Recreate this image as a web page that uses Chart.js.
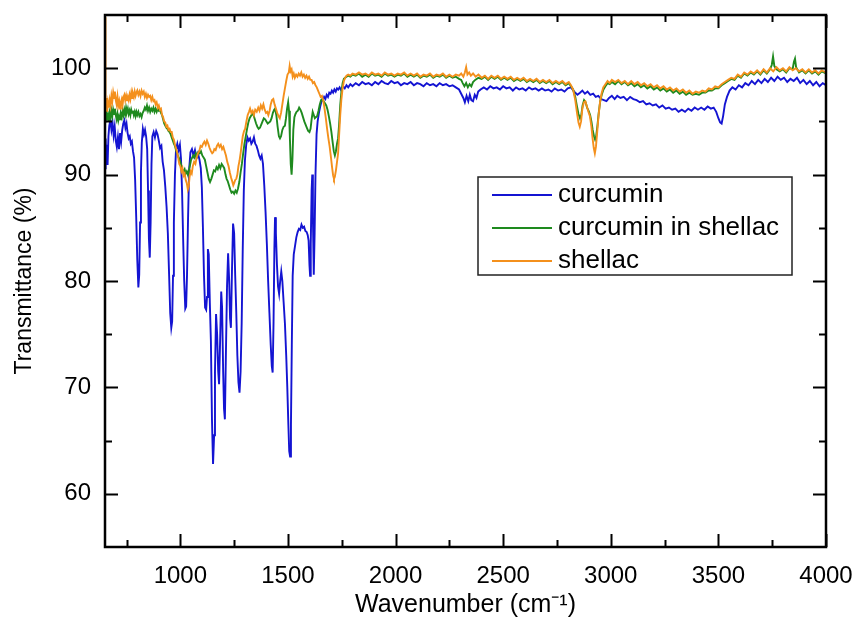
<!DOCTYPE html>
<html>
<head>
<meta charset="utf-8">
<script src="https://cdn.jsdelivr.net/npm/chart.js@4.4.1/dist/chart.umd.min.js"></script>
<style>
  html, body { margin: 0; padding: 0; background: #fff; }
  #wrap { width: 857px; height: 628px; }
</style>
</head>
<body>
<div id="wrap"><canvas id="ftir" width="857" height="628"></canvas></div>
<script>
// FTIR spectra: [wavenumber (cm-1), transmittance (%)]
const seriesNames = ["curcumin", "curcumin in shellac", "shellac"];
const seriesColors = ["#1414d2", "#1e8a1e", "#f4901c"];

const xTicks = [1000, 1500, 2000, 2500, 3000, 3500, 4000];
const xMinorTicks = [750, 1250, 1750, 2250, 2750, 3250, 3750];
const yTicks = [60, 70, 80, 90, 100];
const yMinorTicks = [65, 75, 85, 95];

const curcumin = [
[650,90.6],[653,93.4],[656,91.2],[659,92.8],[662,90.9],[666,93.6],[670,94.6],[675,95.1],[680,94.2],[685,94.9],[690,93.7],[695,94.5],[700,93.2],[705,92.6],[710,93.5],[715,92.4],[720,93.9],[725,93.1],[730,94.2],[735,94.8],[740,95.1],[745,94.4],[750,94.8],[755,93.9],[760,93.4],[765,93.6],[770,92.9],[775,93.1],[780,92.2],[785,91.6],[790,89.5],[795,86.0],[800,82.0],[805,79.4],[809,80.6],[813,85.5],[817,90.2],[821,93.0],[826,94.3],[831,93.8],[836,94.2],[841,93.6],[846,92.4],[850,88.5],[854,84.0],[858,82.2],[862,85.5],[866,91.0],[870,93.6],[876,94.0],[882,93.5],[888,94.1],[894,93.8],[900,93.2],[906,92.5],[912,92.7],[918,91.2],[924,90.4],[930,88.9],[936,87.0],[942,84.5],[948,80.5],[953,77.0],[958,75.6],[962,76.2],[966,80.5],[970,85.5],[975,90.0],[980,92.4],[986,92.9],[992,92.3],[998,92.8],[1003,91.5],[1008,88.5],[1013,84.0],[1018,80.0],[1023,77.4],[1027,77.6],[1031,80.5],[1036,86.0],[1041,90.5],[1047,92.1],[1054,92.4],[1061,91.8],[1068,92.3],[1075,91.6],[1082,92.0],[1089,91.4],[1095,90.6],[1100,88.8],[1105,85.0],[1110,80.5],[1115,77.5],[1120,77.3],[1124,78.5],[1128,83.0],[1132,82.5],[1137,78.0],[1142,74.4],[1147,67.0],[1152,62.8],[1157,65.5],[1161,71.5],[1166,76.9],[1171,75.0],[1176,71.5],[1180,70.3],[1185,74.5],[1190,79.0],[1194,77.5],[1199,71.5],[1203,68.0],[1207,67.0],[1212,73.5],[1217,79.5],[1222,82.6],[1227,80.0],[1231,76.5],[1235,75.6],[1240,81.0],[1245,85.4],[1250,84.5],[1255,80.5],[1260,77.0],[1265,73.0],[1270,70.5],[1275,69.5],[1280,71.5],[1285,76.0],[1290,83.0],[1295,88.5],[1300,91.3],[1306,92.8],[1312,93.5],[1318,93.2],[1324,93.4],[1330,92.9],[1336,93.1],[1342,93.5],[1348,92.9],[1354,92.7],[1360,92.3],[1366,91.8],[1372,91.5],[1378,91.8],[1384,91.0],[1390,89.0],[1396,86.5],[1402,83.5],[1408,80.0],[1414,77.0],[1420,74.0],[1425,72.0],[1429,71.4],[1433,76.0],[1437,83.0],[1440,86.0],[1444,84.5],[1449,81.5],[1454,79.5],[1459,78.8],[1464,80.0],[1469,80.9],[1474,80.0],[1480,78.0],[1486,76.0],[1492,73.0],[1497,70.0],[1502,66.5],[1506,64.0],[1510,63.5],[1514,66.5],[1518,74.0],[1522,80.5],[1527,82.5],[1533,83.3],[1539,84.1],[1545,84.6],[1551,84.9],[1557,84.8],[1563,85.3],[1569,85.0],[1575,85.1],[1581,84.7],[1587,84.6],[1592,84.3],[1596,83.8],[1600,81.5],[1603,80.5],[1606,83.5],[1610,88.5],[1613,90.0],[1616,86.0],[1620,80.6],[1624,84.5],[1628,90.0],[1633,93.8],[1638,95.0],[1644,95.8],[1650,96.4],[1656,96.9],[1662,97.0],[1668,97.3],[1674,97.1],[1680,97.5],[1686,97.3],[1692,97.7],[1698,97.6],[1704,97.9],[1710,97.7],[1716,98.0],[1722,97.8],[1728,98.1],[1734,98.0],[1740,98.2],[1748,97.9],[1756,98.3],[1764,98.1],[1772,98.4],[1780,98.2],[1790,98.5],[1800,98.3],
[1815,98.6],[1830,98.4],[1845,98.7],[1860,98.5],[1875,98.6],[1890,98.4],[1905,98.7],[1920,98.5],[1935,98.8],[1950,98.6],[1965,98.5],[1980,98.8],[1995,98.6],[2010,98.7],[2025,98.4],[2040,98.6],[2055,98.5],[2070,98.7],[2085,98.4],[2100,98.6],[2115,98.5],[2130,98.3],[2145,98.6],[2160,98.4],[2175,98.5],[2190,98.3],[2205,98.6],[2220,98.4],[2235,98.5],[2250,98.3],[2265,98.4],[2280,98.2],[2295,98.0],[2305,97.6],[2315,97.2],[2322,96.8],[2330,97.4],[2338,96.9],[2345,97.5],[2352,97.0],[2360,96.9],[2368,97.5],[2376,97.2],[2384,97.8],[2395,98.0],[2410,98.2],[2425,98.0],[2440,98.3],[2455,98.1],[2470,98.2],[2485,98.0],[2500,98.3],[2515,98.1],[2530,98.2],[2545,97.9],[2560,98.2],[2575,98.0],[2590,98.1],[2605,97.9],[2620,98.2],[2635,98.0],[2650,98.1],[2665,97.9],[2680,98.1],[2695,97.9],[2710,98.0],[2725,97.8],[2740,98.1],[2755,97.9],[2770,98.0],[2785,97.8],[2800,98.1],[2815,98.2],[2830,97.8],[2845,97.5],[2857,97.7],[2868,97.9],[2880,97.6],[2892,97.8],[2905,97.5],[2918,97.6],[2930,97.3],[2942,97.4],[2955,97.1],[2968,97.0],[2980,96.9],[2992,97.2],[3005,97.4],[3018,97.1],[3030,97.4],[3045,97.2],[3060,97.3],[3075,97.0],[3090,97.3],[3105,97.1],[3120,97.0],[3135,96.8],[3150,96.9],[3165,96.6],[3180,96.7],[3195,96.5],[3210,96.6],[3225,96.3],[3240,96.5],[3255,96.2],[3270,96.3],[3285,96.1],[3300,96.2],[3315,95.9],[3330,96.1],[3345,95.9],[3360,96.2],[3375,96.0],[3390,96.3],[3405,96.1],[3420,96.3],[3435,96.1],[3450,96.4],[3465,96.2],[3478,96.3],[3490,95.9],[3500,95.3],[3508,94.9],[3515,94.8],[3522,95.5],[3530,96.6],[3540,97.3],[3552,97.9],[3565,98.2],[3580,98.0],[3595,98.4],[3610,98.2],[3625,98.6],[3640,98.4],[3655,98.8],[3670,98.5],[3685,98.9],[3700,98.6],[3715,99.0],[3730,98.7],[3745,99.1],[3760,98.8],[3775,99.2],[3790,98.9],[3805,99.1],[3820,98.7],[3835,99.0],[3850,98.8],[3865,99.1],[3880,98.6],[3895,98.9],[3910,98.5],[3925,98.8],[3940,98.4],[3955,98.7],[3970,98.3],[3985,98.6],[4000,98.4]
];

const curcuminInShellac = [
[650,95.9],[653,95.1],[656,96.0],[660,95.3],[664,95.6],[668,95.0],[672,95.8],[676,95.4],[680,96.0],[684,95.5],[688,96.1],[692,95.7],[696,96.2],[700,95.6],[704,95.2],[708,95.7],[712,95.1],[716,95.5],[720,95.2],[724,95.7],[728,95.4],[732,96.0],[736,95.6],[740,96.1],[744,95.7],[748,96.3],[752,95.9],[756,96.2],[760,95.7],[764,96.0],[768,95.6],[772,96.1],[776,95.8],[780,96.0],[784,95.6],[788,95.9],[792,95.5],[796,95.9],[800,95.6],[805,95.9],[810,95.5],[815,95.7],[820,95.4],[825,95.8],[830,96.0],[835,96.3],[840,96.1],[845,96.5],[850,96.0],[855,96.3],[860,95.9],[865,96.2],[870,96.0],[875,96.3],[880,95.9],[885,96.2],[890,95.9],[895,96.2],[900,96.0],[905,96.1],[910,95.8],[915,95.6],[920,95.2],[925,94.8],[930,94.6],[935,94.4],[940,94.3],[945,94.1],[950,94.0],[955,93.8],[960,93.5],[965,93.2],[970,92.9],[975,92.7],[980,92.3],[985,92.0],[990,91.7],[995,91.5],[1000,91.2],[1005,90.8],[1010,90.4],[1015,90.3],[1020,90.5],[1025,90.1],[1030,90.3],[1035,90.0],[1040,90.4],[1045,90.9],[1050,91.4],[1055,91.6],[1060,91.8],[1066,91.6],[1072,92.0],[1078,91.7],[1084,92.1],[1090,92.0],[1096,92.2],[1102,91.8],[1108,91.6],[1114,91.4],[1120,90.8],[1126,90.2],[1132,89.6],[1138,89.3],[1144,89.6],[1150,90.0],[1156,90.4],[1162,90.3],[1168,90.7],[1174,90.5],[1180,90.9],[1186,90.6],[1192,91.0],[1198,90.8],[1204,90.6],[1210,90.0],[1215,89.6],[1220,89.4],[1226,89.0],[1232,88.6],[1238,88.3],[1244,88.4],[1250,88.2],[1256,88.5],[1262,88.3],[1268,88.7],[1274,89.3],[1280,90.2],[1286,91.0],[1292,92.0],[1298,92.9],[1304,93.6],[1310,94.3],[1316,94.9],[1322,95.3],[1328,95.5],[1334,95.7],[1340,95.6],[1346,95.2],[1352,94.8],[1358,94.5],[1364,94.3],[1370,94.4],[1376,94.7],[1382,95.0],[1388,95.3],[1394,95.2],[1400,95.0],[1406,94.8],[1412,94.9],[1418,95.0],[1424,95.3],[1430,95.8],[1436,96.1],[1440,96.2],[1446,95.6],[1452,94.5],[1458,93.6],[1463,93.4],[1468,93.6],[1474,94.2],[1480,94.5],[1486,94.6],[1491,95.3],[1496,96.2],[1501,96.8],[1505,96.0],[1509,93.5],[1513,91.0],[1517,90.0],[1521,91.5],[1525,94.2],[1530,95.4],[1535,95.7],[1540,95.9],[1546,96.0],[1552,96.3],[1558,96.1],[1564,95.8],[1570,95.4],[1576,95.0],[1582,94.7],[1588,94.4],[1594,94.1],[1600,94.0],[1605,94.3],[1610,95.2],[1615,95.9],[1620,95.6],[1625,95.3],[1630,95.4],[1636,95.5],[1642,96.0],[1648,96.6],[1654,97.0],[1660,97.1],[1666,96.9],[1672,96.7],[1678,96.5],[1684,96.1],[1690,95.5],[1696,94.8],[1702,94.0],[1708,93.0],[1713,92.2],[1718,91.8],[1723,92.2],[1728,92.9],[1733,93.4],[1738,94.8],[1743,96.5],[1748,97.7],[1754,98.6],[1760,99.0],[1766,99.1],[1772,99.2],[1780,99.3],[1790,99.2],[1800,99.4],
[1815,99.3],[1830,99.5],[1845,99.2],[1860,99.4],[1875,99.2],[1890,99.5],[1905,99.3],[1920,99.4],[1935,99.2],[1950,99.5],[1965,99.3],[1980,99.4],[1995,99.2],[2010,99.4],[2025,99.3],[2040,99.5],[2055,99.2],[2070,99.4],[2085,99.2],[2100,99.4],[2115,99.1],[2130,99.3],[2145,99.2],[2160,99.4],[2175,99.1],[2190,99.3],[2205,99.2],[2220,99.4],[2235,99.1],[2250,99.3],[2265,99.1],[2280,99.2],[2295,99.0],[2305,98.9],[2312,98.6],[2320,98.3],[2328,98.6],[2336,98.2],[2344,98.5],[2352,98.3],[2360,98.7],[2370,98.9],[2385,99.1],[2400,99.0],[2415,99.2],[2430,98.9],[2445,99.2],[2460,99.0],[2475,99.2],[2490,98.9],[2505,99.1],[2520,98.9],[2535,99.1],[2550,98.8],[2565,99.0],[2580,98.8],[2595,99.0],[2610,98.7],[2625,98.9],[2640,98.7],[2655,98.9],[2670,98.6],[2685,98.8],[2700,98.6],[2715,98.8],[2730,98.5],[2745,98.7],[2760,98.5],[2775,98.7],[2790,98.4],[2805,98.6],[2815,98.3],[2825,98.0],[2835,97.3],[2843,96.4],[2850,95.7],[2857,95.3],[2863,95.6],[2869,96.5],[2876,97.0],[2883,96.8],[2890,96.3],[2897,96.0],[2904,95.6],[2910,95.0],[2916,94.2],[2922,93.6],[2927,93.3],[2932,93.6],[2938,94.6],[2944,95.8],[2951,96.9],[2958,97.5],[2966,98.0],[2975,98.3],[2985,98.6],[2995,98.5],[3005,98.7],[3020,98.5],[3035,98.8],[3050,98.5],[3065,98.7],[3080,98.4],[3095,98.6],[3110,98.3],[3125,98.5],[3140,98.2],[3155,98.4],[3170,98.1],[3185,98.3],[3200,98.0],[3215,98.2],[3230,97.9],[3245,98.1],[3260,97.8],[3275,98.0],[3290,97.7],[3305,97.9],[3320,97.6],[3335,97.8],[3350,97.5],[3365,97.7],[3380,97.5],[3395,97.6],[3410,97.5],[3425,97.7],[3440,97.7],[3455,97.9],[3470,97.9],[3485,98.1],[3500,98.1],[3515,98.4],[3530,98.6],[3545,98.8],[3560,99.0],[3575,98.9],[3590,99.3],[3605,99.1],[3620,99.5],[3635,99.3],[3650,99.6],[3665,99.4],[3680,99.7],[3695,99.4],[3710,99.8],[3725,99.5],[3740,99.9],[3748,100.3],[3754,101.1],[3760,100.2],[3770,99.9],[3785,99.7],[3800,99.9],[3815,99.6],[3830,100.0],[3845,99.9],[3851,100.6],[3856,100.9],[3861,100.1],[3875,99.6],[3890,99.8],[3905,99.5],[3920,99.8],[3935,99.5],[3950,99.7],[3965,99.4],[3980,99.7],[4000,99.5]
];

const shellac = [
[650,104.8],[651,101.0],[652,98.5],[654,96.4],[657,97.2],[660,95.9],[664,96.8],[668,96.3],[672,97.0],[676,96.5],[680,97.4],[684,96.9],[688,97.7],[692,97.2],[696,97.8],[700,97.0],[704,96.6],[708,97.3],[712,96.5],[716,96.9],[720,96.2],[724,96.8],[728,97.1],[732,96.6],[736,97.3],[740,97.5],[744,97.0],[748,97.4],[752,96.9],[756,97.3],[760,97.0],[764,97.5],[768,97.1],[772,97.7],[776,97.2],[780,97.6],[784,97.3],[788,97.8],[792,97.4],[796,97.7],[800,97.9],[805,97.5],[810,97.8],[815,97.4],[820,97.9],[825,97.6],[830,97.8],[835,97.3],[840,97.6],[845,97.2],[850,97.5],[855,97.3],[860,97.4],[865,97.0],[870,97.3],[875,96.9],[880,97.0],[885,96.6],[890,96.8],[895,96.3],[900,96.5],[905,96.1],[910,96.2],[915,95.6],[920,95.4],[925,95.0],[930,94.9],[935,94.5],[940,94.6],[945,94.2],[950,94.3],[955,94.0],[960,94.0],[965,93.5],[970,93.3],[975,92.8],[980,92.5],[985,92.1],[990,91.6],[995,91.0],[1000,90.8],[1005,90.3],[1010,90.6],[1015,89.9],[1020,90.1],[1025,89.5],[1030,89.2],[1035,88.6],[1039,88.9],[1043,89.8],[1048,90.3],[1053,90.1],[1058,90.8],[1064,91.2],[1070,91.0],[1076,91.6],[1082,92.0],[1088,92.2],[1094,92.7],[1100,92.6],[1106,92.9],[1112,93.1],[1118,92.8],[1124,93.2],[1130,92.9],[1136,92.5],[1142,92.2],[1148,92.0],[1153,92.1],[1158,92.4],[1164,92.3],[1170,92.7],[1176,92.9],[1182,92.6],[1188,92.8],[1194,92.4],[1200,92.6],[1206,92.2],[1212,91.8],[1218,91.2],[1224,90.8],[1230,90.2],[1236,89.7],[1242,89.3],[1246,89.0],[1250,89.2],[1255,89.5],[1260,89.6],[1265,90.0],[1270,90.8],[1275,91.3],[1280,92.0],[1285,92.8],[1290,93.6],[1296,94.1],[1301,94.3],[1307,95.0],[1313,95.6],[1319,95.9],[1324,96.2],[1330,95.8],[1336,96.0],[1342,95.6],[1348,96.1],[1355,95.9],[1362,96.3],[1368,96.0],[1374,96.5],[1380,96.2],[1386,96.6],[1392,96.1],[1398,95.8],[1404,95.9],[1409,95.6],[1415,96.0],[1420,96.6],[1426,97.0],[1432,97.1],[1438,96.6],[1444,96.2],[1450,95.8],[1456,95.5],[1462,95.3],[1468,95.8],[1474,96.6],[1480,97.4],[1486,98.1],[1492,98.8],[1498,99.4],[1504,99.6],[1508,100.2],[1512,99.7],[1517,99.9],[1522,99.2],[1527,99.5],[1532,99.1],[1538,99.4],[1544,99.2],[1550,99.5],[1556,99.3],[1562,99.6],[1568,99.2],[1574,99.4],[1580,99.1],[1586,99.3],[1592,99.0],[1598,99.2],[1604,98.9],[1610,98.9],[1616,98.6],[1622,98.7],[1628,98.4],[1634,98.2],[1640,97.9],[1646,97.6],[1652,97.3],[1658,97.4],[1664,97.0],[1670,96.2],[1676,95.3],[1682,94.3],[1688,93.4],[1694,92.6],[1700,91.6],[1705,90.7],[1710,89.9],[1714,89.6],[1718,89.8],[1723,90.4],[1728,91.2],[1733,92.0],[1738,93.8],[1743,95.6],[1748,97.0],[1754,98.1],[1760,98.8],[1766,99.1],[1772,99.3],[1780,99.4],[1790,99.3],[1800,99.5],
[1815,99.4],[1830,99.6],[1845,99.4],[1860,99.5],[1875,99.3],[1890,99.6],[1905,99.4],[1920,99.5],[1935,99.3],[1950,99.6],[1965,99.4],[1980,99.5],[1995,99.3],[2010,99.5],[2025,99.4],[2040,99.6],[2055,99.3],[2070,99.5],[2085,99.3],[2100,99.5],[2115,99.2],[2130,99.4],[2145,99.3],[2160,99.5],[2175,99.2],[2190,99.4],[2205,99.3],[2220,99.5],[2235,99.2],[2250,99.4],[2265,99.2],[2280,99.4],[2295,99.3],[2305,99.5],[2315,99.2],[2322,99.6],[2328,100.1],[2334,99.4],[2342,99.6],[2350,99.3],[2360,99.5],[2372,99.2],[2385,99.4],[2400,99.1],[2415,99.3],[2430,99.0],[2445,99.3],[2460,99.1],[2475,99.3],[2490,99.0],[2505,99.2],[2520,99.0],[2535,99.2],[2550,98.9],[2565,99.1],[2580,98.9],[2595,99.1],[2610,98.8],[2625,99.0],[2640,98.8],[2655,99.0],[2670,98.7],[2685,98.9],[2700,98.7],[2715,98.9],[2730,98.6],[2745,98.8],[2760,98.6],[2775,98.8],[2790,98.5],[2805,98.7],[2815,98.4],[2825,98.0],[2835,97.0],[2843,95.8],[2850,94.9],[2856,94.5],[2862,95.0],[2868,96.2],[2875,96.8],[2882,96.9],[2889,96.4],[2896,95.9],[2903,95.5],[2910,94.5],[2916,93.3],[2921,92.5],[2926,92.0],[2931,92.6],[2937,94.0],[2943,95.5],[2950,96.8],[2957,97.6],[2965,98.2],[2975,98.5],[2985,98.8],[2995,98.6],[3005,98.9],[3020,98.7],[3035,98.9],[3050,98.6],[3065,98.8],[3080,98.5],[3095,98.8],[3110,98.5],[3125,98.7],[3140,98.4],[3155,98.6],[3170,98.3],[3185,98.5],[3200,98.2],[3215,98.4],[3230,98.1],[3245,98.3],[3260,98.0],[3275,98.2],[3290,97.9],[3305,98.1],[3320,97.8],[3335,98.0],[3350,97.7],[3365,97.9],[3380,97.6],[3395,97.8],[3410,97.7],[3425,97.9],[3440,97.8],[3455,98.1],[3470,98.0],[3485,98.3],[3500,98.2],[3515,98.5],[3530,98.7],[3545,98.9],[3560,99.1],[3575,99.0],[3590,99.4],[3605,99.2],[3620,99.6],[3635,99.4],[3650,99.7],[3665,99.5],[3680,99.8],[3695,99.5],[3710,99.9],[3725,99.6],[3740,100.0],[3755,99.7],[3770,100.1],[3785,99.8],[3800,100.0],[3815,99.7],[3830,100.1],[3845,99.8],[3860,100.0],[3875,99.7],[3890,99.9],[3905,99.6],[3920,99.9],[3935,99.6],[3950,99.8],[3965,99.5],[3980,99.8],[4000,99.6]
];

const FONT = "'Liberation Sans', Arial, sans-serif";
const toPoints = (arr) => arr.map((p) => ({ x: p[0], y: p[1] }));

// chart.js reserves room for the outer tick labels; the frame must sit at fixed pixels
const noEdgePadding = (scale) => {
	scale.paddingTop = 0;
	scale.paddingBottom = 0;
	scale.paddingLeft = 0;
	scale.paddingRight = 0;
};

// inward ticks on all four sides, the frame, and the boxed legend
const framePlugin = {
	id: "frame",
	afterDraw(chart) {
		const { ctx, chartArea: a, scales } = chart;
		const xs = scales.x, ys = scales.y;
		ctx.save();
		ctx.strokeStyle = "#000";
		ctx.lineWidth = 2;
		ctx.beginPath();
		xTicks.concat(xMinorTicks).forEach((v) => {
			const len = xTicks.includes(v) ? 13 : 7;
			const px = Math.round(xs.getPixelForValue(v)) + 0.5;
			ctx.moveTo(px, a.bottom); ctx.lineTo(px, a.bottom - len);
			ctx.moveTo(px, a.top); ctx.lineTo(px, a.top + len);
		});
		yTicks.concat(yMinorTicks).forEach((v) => {
			const len = yTicks.includes(v) ? 13 : 7;
			const py = Math.round(ys.getPixelForValue(v)) + 0.5;
			ctx.moveTo(a.left, py); ctx.lineTo(a.left + len, py);
			ctx.moveTo(a.right, py); ctx.lineTo(a.right - len, py);
		});
		ctx.stroke();
		ctx.lineWidth = 2.5;
		ctx.strokeRect(a.left, a.top, a.right - a.left, a.bottom - a.top);

		// legend
		const box = { x: 478, y: 177, w: 314, h: 98 };
		ctx.fillStyle = "#fff";
		ctx.fillRect(box.x, box.y, box.w, box.h);
		ctx.lineWidth = 1.5;
		ctx.strokeStyle = "#222";
		ctx.strokeRect(box.x, box.y, box.w, box.h);
		const rows = [195, 228, 261];
		ctx.font = "26px " + FONT;
		ctx.textBaseline = "middle";
		ctx.fillStyle = "#000";
		seriesNames.forEach((name, i) => {
			ctx.strokeStyle = seriesColors[i];
			ctx.lineWidth = 1.8;
			ctx.beginPath();
			ctx.moveTo(492, rows[i]);
			ctx.lineTo(552, rows[i]);
			ctx.stroke();
			ctx.fillText(name, 558, rows[i]);
		});
		ctx.restore();
	},
};

const datasetFor = (i, arr, order) => ({
	label: seriesNames[i],
	data: toPoints(arr),
	borderColor: seriesColors[i],
	backgroundColor: seriesColors[i],
	borderWidth: 1.9,
	pointRadius: 0,
	tension: 0,
	order: order,
});

const ftir = new Chart(document.getElementById("ftir").getContext("2d"), {
	type: "line",
	data: {
		datasets: [
			datasetFor(0, curcumin, 2),
			datasetFor(1, curcuminInShellac, 1),
			datasetFor(2, shellac, 0),
		],
	},
	options: {
		responsive: false,
		devicePixelRatio: 1,
		animation: false,
		layout: { padding: { top: 15, right: 31, left: 0, bottom: 0 } },
		plugins: {
			legend: { display: false },
			tooltip: { enabled: false },
		},
		scales: {
			x: {
				type: "linear",
				min: 650,
				max: 4000,
				afterBuildTicks: (scale) => {
					scale.ticks = xTicks.map((v) => ({ value: v }));
				},
				afterFit: (scale) => {
					scale.height = 81;
					noEdgePadding(scale);
				},
				grid: { display: false, drawTicks: false },
				border: { display: false },
				ticks: {
					color: "#000",
					font: { family: FONT, size: 24 },
					padding: 15,
					maxRotation: 0,
					autoSkip: false,
					callback: (v) => String(v),
				},
				title: {
					display: true,
					text: "Wavenumber (cm\u207B\u00B9)",
					color: "#000",
					font: { family: FONT, size: 25 },
					padding: { top: 0, bottom: 8 },
				},
			},
			y: {
				min: 55,
				max: 105,
				afterBuildTicks: (scale) => {
					scale.ticks = yTicks.map((v) => ({ value: v }));
				},
				afterFit: (scale) => {
					scale.width = 105;
					noEdgePadding(scale);
				},
				grid: { display: false, drawTicks: false },
				border: { display: false },
				ticks: {
					color: "#000",
					font: { family: FONT, size: 24 },
					padding: 14,
					autoSkip: false,
					callback: (v) => String(v),
				},
				title: {
					display: true,
					text: "Transmittance (%)",
					color: "#000",
					font: { family: FONT, size: 23 },
					padding: { top: 11, bottom: 0 },
				},
			},
		},
	},
	plugins: [framePlugin],
});
</script>
</body>
</html>
